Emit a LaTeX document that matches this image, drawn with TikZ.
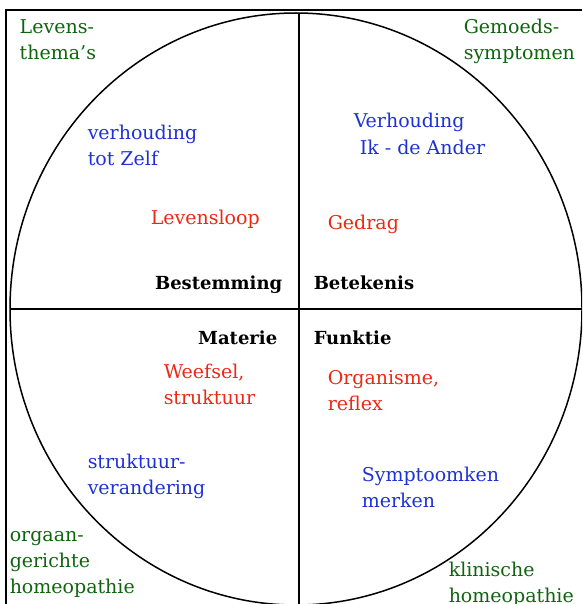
\documentclass[tikz,border=0pt]{standalone}
\usepackage{fontspec}
\setmainfont{DejaVu Serif}
\definecolor{themagreen}{RGB}{16,100,16}
\definecolor{relblue}{RGB}{30,50,210}
\definecolor{procred}{RGB}{235,40,20}

\begin{document}
\begin{tikzpicture}[x=1pt,y=-1pt,line width=1.5pt,
  every node/.style={inner sep=0pt,anchor=base west,align=left,
    font=\fontsize{19}{26}\selectfont},
  thema/.style={text=themagreen},
  relatie/.style={text=relblue},
  proces/.style={text=procred},
  vlak/.style={font=\fontsize{18}{26}\selectfont\bfseries}]
  \useasboundingbox (0,0) rectangle (582,604);
  \clip (0,0) rectangle (582,604);
  % kader en cirkel
  \coordinate (M) at (296,309);
  \draw (6,604) -- (6,10) -- (582,10);
  \draw (M) ellipse [x radius=286, y radius=296];
  \draw (299,13) -- (299,604);
  \draw (10,309) -- (582,309);
  % hoeken (base = laatste regel)
  \node[thema] (levens) at (19,60) {Levens-\\thema’s};
  \node[thema] (gemoed) at (463,60) {Gemoeds-\\symptomen};
  \node[thema] (orgaan) at (9,593) {orgaan-\\gerichte\\homeopathie};
  \node[thema] (klin) at (448,602) {klinische\\homeopathie};
  % relaties
  \node[relatie] (zelf) at (87,165) {verhouding\\tot Zelf};
  \node[relatie] (ander) at (353,154) {Verhouding\\\hspace{6pt}Ik - de Ander};
  \node[relatie] (strukver) at (87,494) {struktuur-\\verandering};
  \node[relatie] (sympt) at (361,507) {Symptoomken\\merken};
  % processen
  \node[proces] (loop) at (150,224) {Levensloop};
  \node[proces] (gedrag) at (327,229) {Gedrag};
  \node[proces] (weefsel) at (163,404) {Weefsel,\\struktuur};
  \node[proces] (organ) at (327,410) {Organisme,\\reflex};
  % vlakken
  \node[vlak,anchor=base east] (bestem) at (283,289) {Bestemming};
  \node[vlak] (betek) at (313,289) {Betekenis};
  \node[vlak,anchor=base east] (mat) at (278,344) {Materie};
  \node[vlak] (funk) at (313,344) {Funktie};
\end{tikzpicture}
\end{document}
